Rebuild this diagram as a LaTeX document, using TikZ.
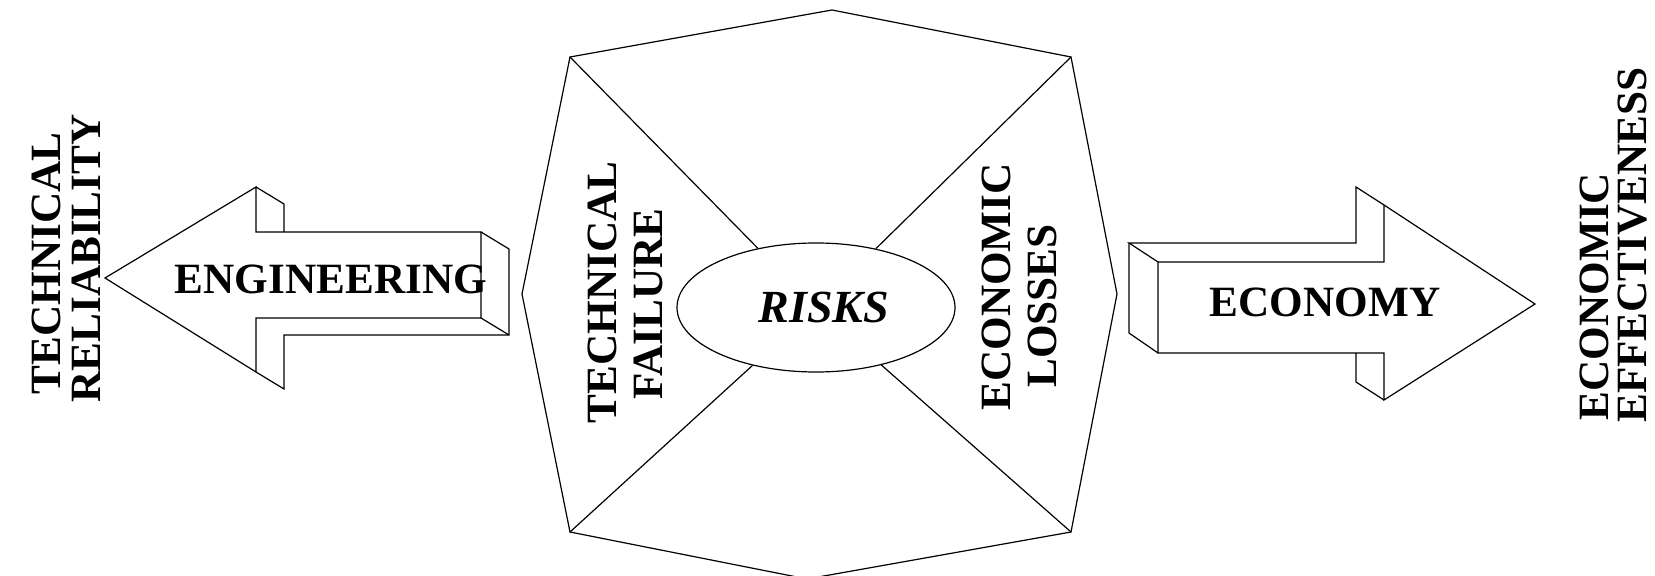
\documentclass[tikz,border=0pt]{standalone}
\usepackage{fontspec}
\setmainfont{Liberation Serif}
\usetikzlibrary{shapes.geometric}
\tikzset{
  ln/.style={line width=0.6pt, line join=miter},
  lbl/.style={inner sep=0pt, font=\fontsize{21.6pt}{26pt}\selectfont\bfseries},
  vlbl/.style={lbl, rotate=90},
  riskfont/.style={inner sep=0pt, font=\fontsize{23pt}{27pt}\selectfont\bfseries\itshape},
}
\begin{document}
\begin{tikzpicture}[x=0.5pt,y=-0.5pt]
\useasboundingbox (0,0) rectangle (1655,576);
\clip (0,0) rectangle (1655,576);
% ---------- octagon ----------
\coordinate (oT)  at (832,10);
\coordinate (oTR) at (1071,57);
\coordinate (oR)  at (1117,294);
\coordinate (oBR) at (1071,532);
\coordinate (oB)  at (807,579);
\coordinate (oBL) at (570,532);
\coordinate (oL)  at (522,294);
\coordinate (oTL) at (570,57);
\draw[ln] (oT) -- (oTR) -- (oR) -- (oBR) -- (oB) -- (oBL) -- (oL) -- (oTL) -- cycle;
\node[ellipse, draw, line width=0.6pt, minimum width=139pt, minimum height=64.5pt, inner sep=0pt] (ell) at (816,307.5) {};
\draw[ln] (oTL) -- (ell);
\draw[ln] (oTR) -- (ell);
\draw[ln] (oBL) -- (ell);
\draw[ln] (oBR) -- (ell);
\node[riskfont] (risks) at (824,307) {RISKS};
% ---------- left arrow (ENGINEERING) ----------
\coordinate (lt)  at (105,278);
\coordinate (lA)  at (256,187);
\coordinate (lB)  at (256,232);
\coordinate (lC)  at (481,232);
\coordinate (lD)  at (481,318);
\coordinate (lE)  at (256,318);
\coordinate (lF)  at (256,372);
\coordinate (lA2) at (284,204);
\coordinate (lB2) at (284,232);
\coordinate (lC2) at (509,249);
\coordinate (lD2) at (509,335);
\coordinate (lE2) at (284,335);
\coordinate (lF2) at (284,389);
\draw[ln] (lt) -- (lA) -- (lB) -- (lC) -- (lD) -- (lE) -- (lF) -- cycle;
\draw[ln] (lA) -- (lA2) -- (lB2);
\draw[ln] (lC) -- (lC2) -- (lD2) -- (lE2) -- (lF2) -- (lF);
\draw[ln] (lD) -- (lD2);
% ---------- right arrow (ECONOMY) ----------
\coordinate (rF1) at (1158,262);
\coordinate (rF2) at (1384,262);
\coordinate (rF3) at (1384,205);
\coordinate (rt)  at (1535,304);
\coordinate (rF5) at (1384,400);
\coordinate (rF6) at (1384,353);
\coordinate (rF7) at (1158,353);
\coordinate (rB1) at (1129,243);
\coordinate (rB2) at (1356,243);
\coordinate (rB3) at (1356,187);
\coordinate (rB6) at (1356,353);
\coordinate (rB5) at (1356,382);
\coordinate (rB7) at (1129,333);
\draw[ln] (rF1) -- (rF2) -- (rF3) -- (rt) -- (rF5) -- (rF6) -- (rF7) -- cycle;
\draw[ln] (rF1) -- (rB1) -- (rB2) -- (rB3) -- (rF3);
\draw[ln] (rB1) -- (rB7) -- (rF7);
\draw[ln] (rB6) -- (rB5) -- (rF5);
% ---------- labels ----------
\node[lbl] (eng) at (331,279) {ENGINEERING};
\node[lbl] (eco) at (1325,302.5) {ECONOMY};
\node[vlbl] (tr1) at (46,263.5) {TECHNICAL};
\node[vlbl] (tr2) at (86,258.5) {RELIABILITY};
\node[vlbl] (tf1) at (602.5,292.5) {TECHNICAL};
\node[vlbl] (tf2) at (648,304) {FAILURE};
\node[vlbl] (el1) at (996.5,287) {ECONOMIC};
\node[vlbl] (el2) at (1042,306) {LOSSES};
\node[vlbl] (ee1) at (1594,296.5) {ECONOMIC};
\node[vlbl] (ee2) at (1633,245) {EFFECTIVENESS};
\end{tikzpicture}
\end{document}
